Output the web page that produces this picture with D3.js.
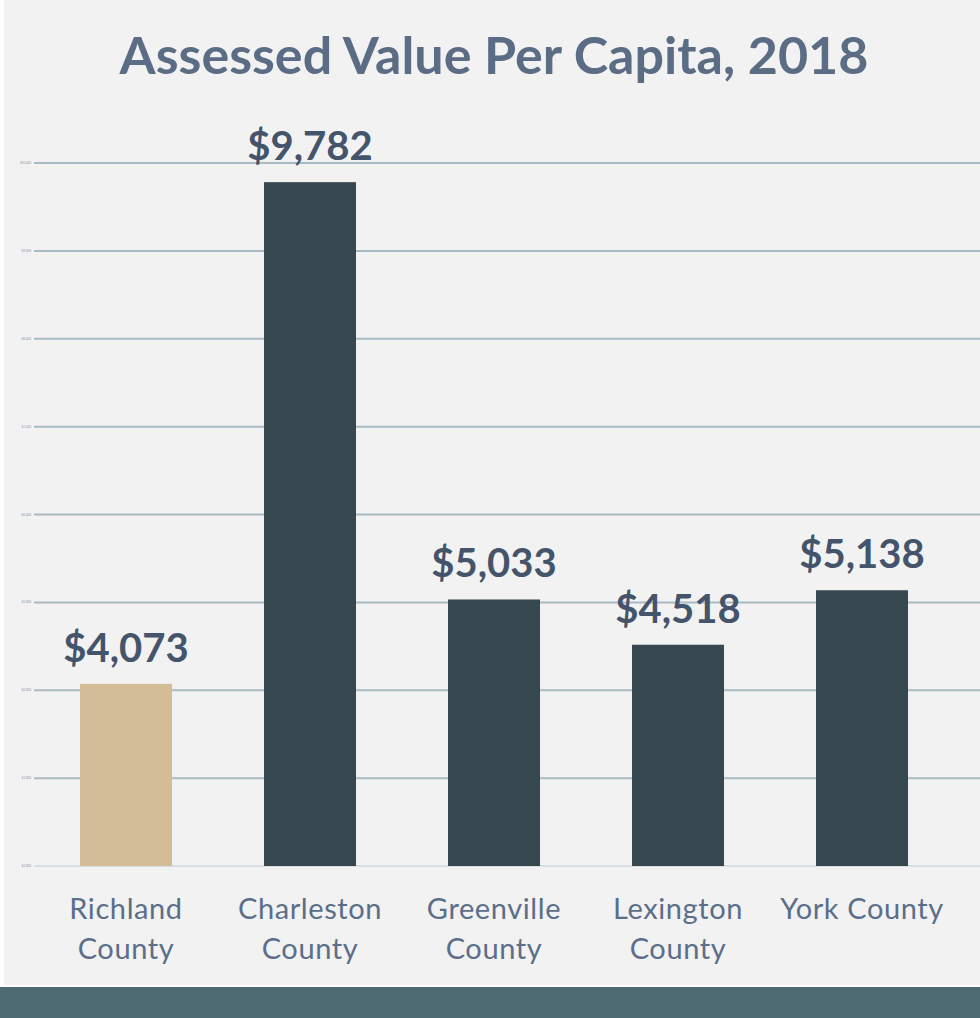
<!DOCTYPE html>
<html>
<head>
<meta charset="utf-8">
<script src="https://cdn.jsdelivr.net/npm/d3@7"></script>
<style>
  html, body { margin: 0; padding: 0; background: #fff; }
  svg { display: block; }
</style>
</head>
<body>
<svg id="chart" width="980" height="1018"></svg>
<script>
const counties = ["Richland County", "Charleston County", "Greenville County", "Lexington County", "York County"];
const values = [4073, 9782, 5033, 4518, 5138];
const highlight = ["Richland County"];
const yTicks = [2000, 3000, 4000, 5000, 6000, 7000, 8000, 9000, 10000];

const width = 980, height = 1018;
const margin = { top: 163, right: 26, bottom: 152, left: 34 };

const svg = d3.select("#chart");

// page background + bottom band
svg.append("rect").attr("x", 4).attr("y", 0).attr("width", width - 4).attr("height", 985).attr("fill", "#f2f2f2");
svg.append("rect").attr("x", 0).attr("y", 987).attr("width", width).attr("height", height - 987).attr("fill", "#4e6a72");

svg.append("text")
  .attr("x", 494).attr("y", 74)
  .attr("text-anchor", "middle")
  .attr("font-family", "Lato, 'Noto Sans', sans-serif")
  .attr("font-weight", 700)
  .attr("font-size", 52)
  .attr("fill", "#5b6c85")
  .text("Assessed Value Per Capita, 2018");

const x = d3.scaleBand()
  .domain(counties)
  .range([margin.left, 954])
  .paddingInner(0.5)
  .paddingOuter(0.25);

const y = d3.scaleLinear()
  .domain([2000, 10000])
  .range([866, 163]);

// grid
const grid = svg.append("g");
grid.selectAll("line")
  .data(yTicks)
  .join("line")
  .attr("x1", margin.left).attr("x2", width)
  .attr("y1", d => y(d)).attr("y2", d => y(d))
  .attr("stroke", d => d === 2000 ? "#d6dde3" : "#a9bac3")
  .attr("stroke-width", 2);

// tiny tick labels (illegible in the original)
grid.selectAll("text")
  .data(yTicks)
  .join("text")
  .attr("x", 31).attr("y", d => y(d) + 1)
  .attr("text-anchor", "end")
  .attr("font-family", "Lato, sans-serif")
  .attr("font-size", 3)
  .attr("fill", "#8a96a3")
  .text(d => d3.format("$,")(d));

const data = counties.map((c, i) => ({ county: c, value: values[i] }));

svg.append("g").selectAll("rect")
  .data(data)
  .join("rect")
  .attr("x", d => x(d.county))
  .attr("width", x.bandwidth())
  .attr("y", d => y(d.value))
  .attr("height", d => y(2000) - y(d.value))
  .attr("fill", d => highlight.includes(d.county) ? "#d3bd96" : "#36474f");

svg.append("g").selectAll("text")
  .data(data)
  .join("text")
  .attr("x", d => x(d.county) + x.bandwidth() / 2)
  .attr("y", d => y(d.value) - 22)
  .attr("text-anchor", "middle")
  .attr("font-family", "Lato, 'Noto Sans', sans-serif")
  .attr("font-weight", 700)
  .attr("font-size", 40)
  .attr("fill", "#44546a")
  .text(d => d3.format("$,")(d.value));

// category labels, wrapped like the original
const wrap = { "Richland County": ["Richland", "County"], "Charleston County": ["Charleston", "County"],
  "Greenville County": ["Greenville", "County"], "Lexington County": ["Lexington", "County"], "York County": ["York County"] };

const labels = svg.append("g").selectAll("text")
  .data(counties)
  .join("text")
  .attr("x", d => x(d) + x.bandwidth() / 2)
  .attr("y", 919)
  .attr("text-anchor", "middle")
  .attr("font-family", "Lato, 'Noto Sans', sans-serif")
  .attr("font-size", 29)
  .attr("letter-spacing", 0.6)
  .attr("fill", "#5b6e8a");

labels.selectAll("tspan")
  .data(d => wrap[d].map(t => ({ t, cx: x(d) + x.bandwidth() / 2 })))
  .join("tspan")
  .attr("x", d => d.cx)
  .attr("dy", (d, i) => i === 0 ? 0 : 40)
  .text(d => d.t);
</script>
</body>
</html>
